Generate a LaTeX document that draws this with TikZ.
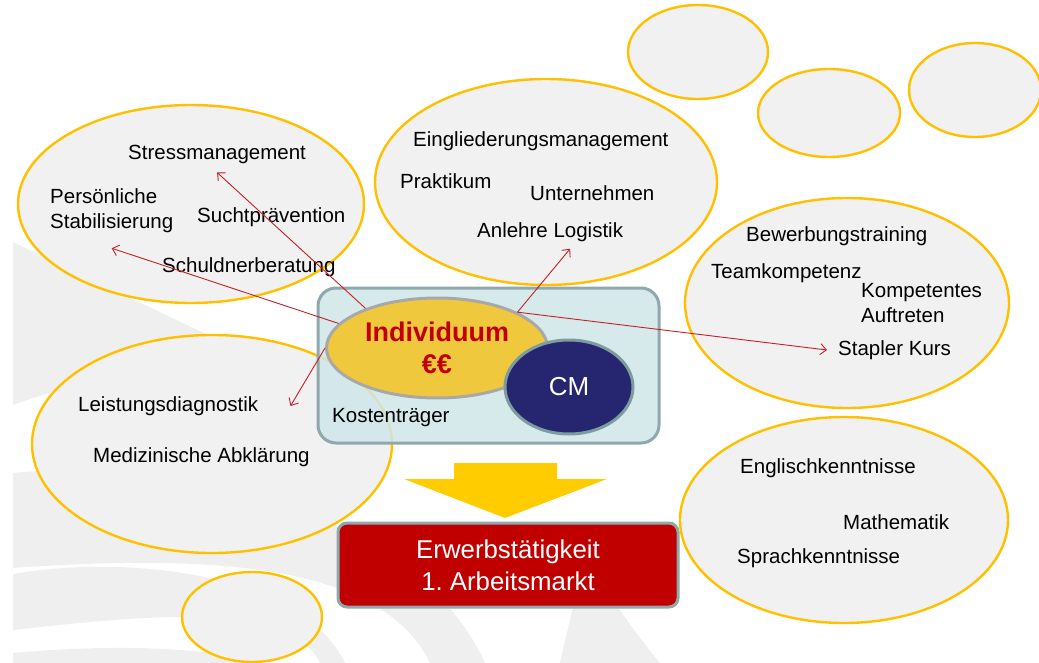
\documentclass[tikz,border=0pt]{standalone}
\usepackage{fontspec}
\setmainfont{Liberation Sans}
\usetikzlibrary{arrows.meta}
\usetikzlibrary{shapes.geometric}

\definecolor{bubblefill}{RGB}{241,241,241}
\definecolor{bubbleline}{RGB}{255,192,0}
\definecolor{bandgrey}{RGB}{240,239,239}
\definecolor{boxfill}{RGB}{207,230,233}
\definecolor{boxline}{RGB}{143,168,172}
\definecolor{indfill}{RGB}{240,200,62}
\definecolor{indline}{RGB}{168,168,168}
\definecolor{cmfill}{RGB}{38,38,112}
\definecolor{cmline}{RGB}{126,156,158}
\definecolor{darkred}{RGB}{192,0,0}
\definecolor{linkred}{RGB}{200,30,40}
\definecolor{arrowyellow}{RGB}{255,204,0}

\begin{document}
\begin{tikzpicture}[x=1pt,y=-1pt,>/.tip={Straight Barb[length=6pt,width=11pt]},
	bubble/.style={draw=bubbleline,fill=bubblefill,line width=2.4pt,shape=ellipse,inner sep=0pt},
	item/.style={anchor=west,inner sep=0pt,align=left,font=\fontsize{20.5}{25}\selectfont},
	link/.style={->,draw=linkred,line width=0.9pt}]
	\useasboundingbox (0,0) rectangle (1039,663);

	% faint background bands
	\begin{scope}
		\clip (13,0) rectangle (1039,663);
		\fill[bandgrey] (13,242) -- (250,355) .. controls (150,362) and (70,385) .. (13,405) -- cycle;
		\fill[bandgrey] (13,473) .. controls (200,455) and (420,520) .. (485,663) -- (430,663) .. controls (380,560) and (200,555) .. (13,568) -- cycle;
		\fill[bandgrey] (13,574) .. controls (120,555) and (300,570) .. (345,663) -- (320,663) .. controls (290,600) and (150,615) .. (13,630) -- cycle;
		\fill[bandgrey] (13,653) .. controls (100,645) and (200,645) .. (260,663) -- (13,663) -- cycle;
		\fill[bandgrey] (575,600) -- (613,600) .. controls (630,625) and (645,645) .. (660,663) -- (560,663) .. controls (565,640) and (570,620) .. cycle;
		\fill[bandgrey] (438,640) -- (450,640) -- (452,663) -- (436,663) -- cycle;
	\end{scope}

	% bubbles
	\draw (191,204) node (stabil) [bubble,minimum width=346pt,minimum height=198pt] {};
	\draw (546,182) node (integ) [bubble,minimum width=342pt,minimum height=206pt] {};
	\draw (847,303) node (soft) [bubble,minimum width=324pt,minimum height=210pt] {};
	\draw (212,444) node (medic) [bubble,minimum width=360pt,minimum height=218pt] {};
	\draw (844,520) node (lang) [bubble,minimum width=328pt,minimum height=206pt] {};
	\draw (252,617) node (blankA) [bubble,minimum width=140pt,minimum height=90pt] {};
	\draw (698,52) node (blankB) [bubble,minimum width=140pt,minimum height=94pt] {};
	\draw (829,113) node (blankC) [bubble,minimum width=142pt,minimum height=88pt] {};
	\draw (975,90) node (blankD) [bubble,minimum width=132pt,minimum height=94pt] {};

	% texts in the bubbles
	\draw (128,154) node (stress) [item] {Stressmanagement};
	\draw (50,211) node (pers) [item] {Persönliche\\Stabilisierung};
	\draw (197,217) node (sucht) [item] {Suchtprävention};
	\draw (162,267) node (schuld) [item] {Schuldnerberatung};

	\draw (413,141) node (eingl) [item] {Eingliederungsmanagement};
	\draw (400,181) node (prakt) [item] {Praktikum};
	\draw (530,193) node (untern) [item] {Unternehmen};
	\draw (477,232) node (anl) [item] {Anlehre Logistik};

	\draw (746,236) node (bewerb) [item] {Bewerbungstraining};
	\draw (711,273) node (team) [item] {Teamkompetenz};
	\draw (861,303) node (auftr) [item] {Kompetentes\\Auftreten};
	\draw (838,350) node (stapler) [item] {Stapler Kurs};

	\draw (78,406) node (leist) [item] {Leistungsdiagnostik};
	\draw (93,457) node (abkl) [item] {Medizinische Abklärung};

	\draw (740,468) node (engl) [item] {Englischkenntnisse};
	\draw (843,522) node (mathe) [item] {Mathematik};
	\draw (737,558) node (sprach) [item] {Sprachkenntnisse};

	% centre
	\draw (488.5,365.5) node (payer) [draw=boxline,fill=boxfill,fill opacity=0.85,line width=3pt,rounded corners=18pt,minimum width=341pt,minimum height=155pt] {};
	\draw (332,418) node (payername) [item] {Kostenträger};
	\draw (437,348) node (ind) [shape=ellipse,draw=indline,fill=indfill,line width=3pt,inner sep=0pt,minimum width=221pt,minimum height=100pt,align=center,text=darkred,font=\bfseries\fontsize{27}{32}\selectfont] {Individuum\\€€};
	\draw (569,387) node (cm) [shape=ellipse,draw=cmline,fill=cmfill,line width=3pt,inner sep=0pt,minimum width=128pt,minimum height=94pt,text=white,font=\fontsize{26}{30}\selectfont] {CM};

	\draw[link] (ind.151) -- ([yshift=-9pt]stress.south);
	\draw[link] (ind.166) -- ([yshift=-15pt]pers.south);
	\draw[link] (ind.180) -- ([xshift=32pt]leist.east);
	\draw[link] (ind.24) -- ([xshift=20pt,yshift=-7pt]anl.south);
	\draw[link] (ind.24) -- ([xshift=-11pt]stapler.west);

	% result
	\fill[arrowyellow] (454,463) -- (557,463) -- (557,479) -- (607,479) -- (505,518) -- (404,479) -- (454,479) -- cycle;
	\draw (508,565) node (goal) [draw=boxline,fill=darkred,line width=3pt,rounded corners=9pt,minimum width=340pt,minimum height=84pt,align=center,text=white,font=\fontsize{25.8}{32}\selectfont] {Erwerbstätigkeit\\1.\ Arbeitsmarkt};
\end{tikzpicture}
\end{document}
